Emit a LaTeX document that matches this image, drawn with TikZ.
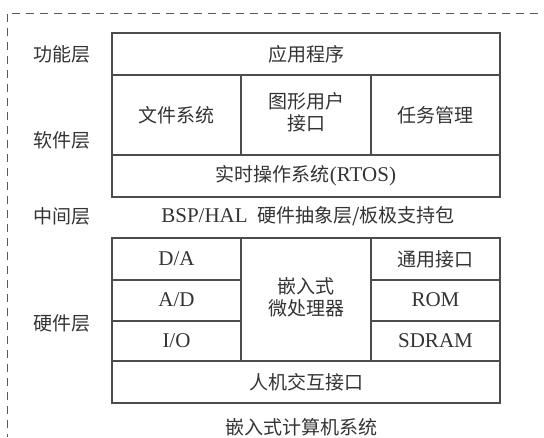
\documentclass[tikz,border=0pt]{standalone}
\usepackage{fontspec}
\setmainfont{Liberation Serif}
\newfontfamily\cjk{Noto Sans CJK SC}
\begin{document}
\begin{tikzpicture}[x=1pt,y=-1pt,
  cell/.style={draw=black!70, line width=1.3pt},
  txt/.style={text=black!80, font=\fontsize{19}{22}\selectfont\cjk, inner sep=0pt, align=center},
  lat/.style={text=black!80, font=\fontsize{21}{24}\selectfont, inner sep=0pt},
  frame/.style={draw=black!65, line width=0.9pt, dash pattern=on 8pt off 6pt}]
\useasboundingbox (0,0) rectangle (544,437);
% dashed frame
\coordinate (tl) at (7,13);
\coordinate (tr) at (538,13);
\coordinate (bl) at (7,437);
\draw[frame] (tr) -- (tl) -- (bl);
% upper block
\draw[cell] (112,33) rectangle (500,197);
\draw[cell] (112,75) -- (500,75);
\draw[cell] (112,155) -- (500,155);
\draw[cell] (241,75) -- (241,155);
\draw[cell] (371,75) -- (371,155);
\node[txt] (app) at (306,54) {应用程序};
\node[txt] (fs) at (176.5,115) {文件系统};
\node[txt] (gui) at (306,112) {\fontsize{19}{30}\selectfont 图形用户\\接口};
\node[txt] (tm) at (435.5,115) {任务管理};
\node[txt] (rtos) at (306,176) {实时操作系统{\rmfamily\fontsize{21}{24}\selectfont(RTOS)}};
% layer labels
\node[txt] (l1) at (62,54) {功能层};
\node[txt] (l2) at (62,140) {软件层};
\node[txt] (l3) at (62,216) {中间层};
\node[txt] (l4) at (62,323) {硬件层};
\node[txt] (bsp) at (308,216) {{\rmfamily\fontsize{21}{24}\selectfont BSP/HAL}\hspace{0.5em}硬件抽象层/板极支持包};
% lower block
\draw[cell] (112,238) rectangle (500,403);
\draw[cell] (112,361) -- (500,361);
\draw[cell] (241,238) -- (241,361);
\draw[cell] (371,238) -- (371,361);
\draw[cell] (112,280) -- (241,280);
\draw[cell] (112,321) -- (241,321);
\draw[cell] (371,280) -- (500,280);
\draw[cell] (371,321) -- (500,321);
\node[lat] (da) at (176.5,259) {D/A};
\node[lat] (ad) at (176.5,300) {A/D};
\node[lat] (io) at (176.5,341) {I/O};
\node[txt] (cpu) at (306,297) {\fontsize{19}{20}\selectfont 嵌入式\\微处理器};
\node[txt] (gen) at (435.5,259) {通用接口};
\node[lat] (rom) at (435.5,300) {ROM};
\node[lat] (sdram) at (435.5,341) {SDRAM};
\node[txt] (hmi) at (306,382) {人机交互接口};
\node[txt] (sys) at (301,427) {嵌入式计算机系统};
\end{tikzpicture}
\end{document}
